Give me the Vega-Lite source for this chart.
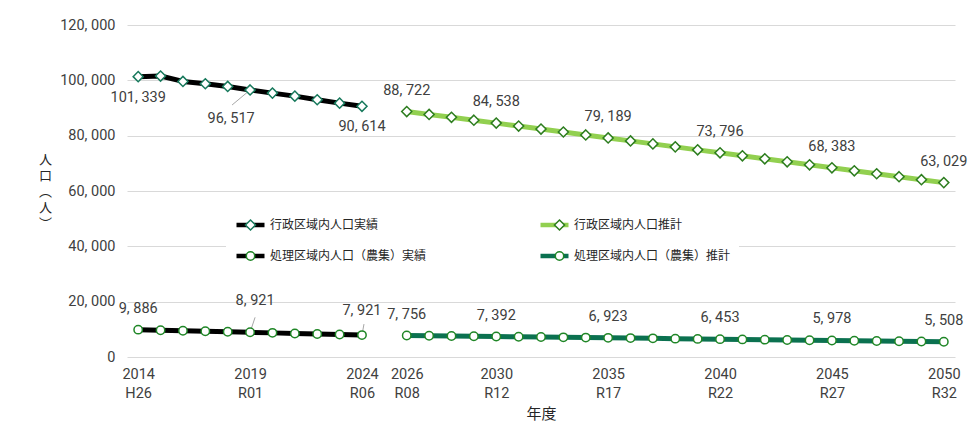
{
  "$schema": "https://vega.github.io/schema/vega-lite/v6.json",
  "width": 828,
  "height": 332,
  "autosize": {"type": "none"},
  "padding": {"left": 127, "top": 25, "right": 24, "bottom": 73},
  "background": "white",
  "config": {
    "locale": {"number": {"decimal": ".", "thousands": ", ", "grouping": [3], "currency": ["", ""]}},
    "view": {"stroke": null},
    "font": "Roboto, 'Noto Sans CJK JP', sans-serif"
  },
  "data": {
    "values": [
      {"year": 2014, "s": "行政区域内人口実績", "v": 101339},
      {"year": 2015, "s": "行政区域内人口実績", "v": 101550},
      {"year": 2016, "s": "行政区域内人口実績", "v": 99600},
      {"year": 2017, "s": "行政区域内人口実績", "v": 98770},
      {"year": 2018, "s": "行政区域内人口実績", "v": 97800},
      {"year": 2019, "s": "行政区域内人口実績", "v": 96517},
      {"year": 2020, "s": "行政区域内人口実績", "v": 95380},
      {"year": 2021, "s": "行政区域内人口実績", "v": 94290},
      {"year": 2022, "s": "行政区域内人口実績", "v": 92990},
      {"year": 2023, "s": "行政区域内人口実績", "v": 91760},
      {"year": 2024, "s": "行政区域内人口実績", "v": 90614},
      {"year": 2026, "s": "行政区域内人口推計", "v": 88722},
      {"year": 2027, "s": "行政区域内人口推計", "v": 87680},
      {"year": 2028, "s": "行政区域内人口推計", "v": 86640},
      {"year": 2029, "s": "行政区域内人口推計", "v": 85590},
      {"year": 2030, "s": "行政区域内人口推計", "v": 84538},
      {"year": 2031, "s": "行政区域内人口推計", "v": 83470},
      {"year": 2032, "s": "行政区域内人口推計", "v": 82400},
      {"year": 2033, "s": "行政区域内人口推計", "v": 81330},
      {"year": 2034, "s": "行政区域内人口推計", "v": 80260},
      {"year": 2035, "s": "行政区域内人口推計", "v": 79189},
      {"year": 2036, "s": "行政区域内人口推計", "v": 78110},
      {"year": 2037, "s": "行政区域内人口推計", "v": 77030},
      {"year": 2038, "s": "行政区域内人口推計", "v": 75950},
      {"year": 2039, "s": "行政区域内人口推計", "v": 74870},
      {"year": 2040, "s": "行政区域内人口推計", "v": 73796},
      {"year": 2041, "s": "行政区域内人口推計", "v": 72710},
      {"year": 2042, "s": "行政区域内人口推計", "v": 71630},
      {"year": 2043, "s": "行政区域内人口推計", "v": 70550},
      {"year": 2044, "s": "行政区域内人口推計", "v": 69460},
      {"year": 2045, "s": "行政区域内人口推計", "v": 68383},
      {"year": 2046, "s": "行政区域内人口推計", "v": 67310},
      {"year": 2047, "s": "行政区域内人口推計", "v": 66240},
      {"year": 2048, "s": "行政区域内人口推計", "v": 65170},
      {"year": 2049, "s": "行政区域内人口推計", "v": 64100},
      {"year": 2050, "s": "行政区域内人口推計", "v": 63029},
      {"year": 2014, "s": "処理区域内人口（農集）実績", "v": 9886},
      {"year": 2015, "s": "処理区域内人口（農集）実績", "v": 9690},
      {"year": 2016, "s": "処理区域内人口（農集）実績", "v": 9500},
      {"year": 2017, "s": "処理区域内人口（農集）実績", "v": 9300},
      {"year": 2018, "s": "処理区域内人口（農集）実績", "v": 9110},
      {"year": 2019, "s": "処理区域内人口（農集）実績", "v": 8921},
      {"year": 2020, "s": "処理区域内人口（農集）実績", "v": 8720},
      {"year": 2021, "s": "処理区域内人口（農集）実績", "v": 8520},
      {"year": 2022, "s": "処理区域内人口（農集）実績", "v": 8320},
      {"year": 2023, "s": "処理区域内人口（農集）実績", "v": 8120},
      {"year": 2024, "s": "処理区域内人口（農集）実績", "v": 7921},
      {"year": 2026, "s": "処理区域内人口（農集）推計", "v": 7756},
      {"year": 2027, "s": "処理区域内人口（農集）推計", "v": 7665},
      {"year": 2028, "s": "処理区域内人口（農集）推計", "v": 7575},
      {"year": 2029, "s": "処理区域内人口（農集）推計", "v": 7480},
      {"year": 2030, "s": "処理区域内人口（農集）推計", "v": 7392},
      {"year": 2031, "s": "処理区域内人口（農集）推計", "v": 7300},
      {"year": 2032, "s": "処理区域内人口（農集）推計", "v": 7205},
      {"year": 2033, "s": "処理区域内人口（農集）推計", "v": 7110},
      {"year": 2034, "s": "処理区域内人口（農集）推計", "v": 7015},
      {"year": 2035, "s": "処理区域内人口（農集）推計", "v": 6923},
      {"year": 2036, "s": "処理区域内人口（農集）推計", "v": 6830},
      {"year": 2037, "s": "処理区域内人口（農集）推計", "v": 6735},
      {"year": 2038, "s": "処理区域内人口（農集）推計", "v": 6640},
      {"year": 2039, "s": "処理区域内人口（農集）推計", "v": 6545},
      {"year": 2040, "s": "処理区域内人口（農集）推計", "v": 6453},
      {"year": 2041, "s": "処理区域内人口（農集）推計", "v": 6360},
      {"year": 2042, "s": "処理区域内人口（農集）推計", "v": 6265},
      {"year": 2043, "s": "処理区域内人口（農集）推計", "v": 6170},
      {"year": 2044, "s": "処理区域内人口（農集）推計", "v": 6075},
      {"year": 2045, "s": "処理区域内人口（農集）推計", "v": 5978},
      {"year": 2046, "s": "処理区域内人口（農集）推計", "v": 5885},
      {"year": 2047, "s": "処理区域内人口（農集）推計", "v": 5790},
      {"year": 2048, "s": "処理区域内人口（農集）推計", "v": 5695},
      {"year": 2049, "s": "処理区域内人口（農集）推計", "v": 5600},
      {"year": 2050, "s": "処理区域内人口（農集）推計", "v": 5508}
    ]
  },
  "encoding": {
    "x": {
      "field": "year",
      "type": "quantitative",
      "scale": {"domain": [2013.5, 2050.5], "nice": false, "zero": false},
      "axis": {
        "title": "年度",
        "titleFont": "Noto Sans CJK JP",
        "titleFontSize": 15,
        "titleFontWeight": "normal",
        "titleColor": "#262626",
        "titleY": 56,
        "titleBaseline": "middle",
        "values": [2014, 2019, 2024, 2026, 2030, 2035, 2040, 2045, 2050],
        "labelExpr": "[toString(datum.value), datum.value == 2014 ? 'H26' : 'R' + (datum.value - 2018 < 10 ? '0' : '') + toString(datum.value - 2018)]",
        "labelFontSize": 14.5,
        "labelLineHeight": 19,
        "labelPadding": 10,
        "labelColor": "#404040",
        "labelFlush": false,
        "labelOverlap": false,
        "grid": false,
        "domain": false,
        "ticks": false,
        "tickSize": 0
      }
    },
    "y": {
      "field": "v",
      "type": "quantitative",
      "scale": {"domain": [0, 120000], "nice": false},
      "axis": {
        "title": ["人", "口", "︵", "人", "︶"],
        "titleAngle": 0,
        "titleX": -82,
        "titleY": 134,
        "titleAlign": "center",
        "titleBaseline": "middle",
        "titleFont": "Noto Sans CJK JP",
        "titleFontSize": 13,
        "titleFontWeight": "normal",
        "titleLineHeight": 16,
        "titleColor": "#262626",
        "values": [0, 20000, 40000, 60000, 80000, 100000, 120000],
        "format": ",.0f",
        "grid": true,
        "gridColor": "#d9d9d9",
        "gridWidth": 1,
        "domain": false,
        "ticks": false,
        "tickSize": 0,
        "labelPadding": 12,
        "labelFontSize": 14.5,
        "labelColor": "#404040"
      }
    }
  },
  "layer": [
    {
      "transform": [{"filter": {"and": [{"field": "s", "equal": "行政区域内人口実績"}, {"field": "year", "equal": 2019}]}}],
      "mark": {"type": "rule", "color": "#a6a6a6", "strokeWidth": 1, "x2Offset": -18, "y2Offset": 15},
      "encoding": {"x2": {"field": "year"}, "y2": {"field": "v"}}
    },
    {
      "transform": [{"filter": {"and": [{"field": "s", "equal": "処理区域内人口（農集）実績"}, {"field": "year", "equal": 2019}]}}],
      "mark": {"type": "rule", "color": "#a6a6a6", "strokeWidth": 1, "x2Offset": 5, "y2Offset": -15},
      "encoding": {"x2": {"field": "year"}, "y2": {"field": "v"}}
    },
    {
      "transform": [{"filter": {"and": [{"field": "s", "equal": "処理区域内人口（農集）実績"}, {"field": "year", "equal": 2024}]}}],
      "mark": {"type": "rule", "color": "#a6a6a6", "strokeWidth": 1, "x2Offset": 2, "y2Offset": -11},
      "encoding": {"x2": {"field": "year"}, "y2": {"field": "v"}}
    },
    {
      "mark": {"type": "line", "strokeWidth": 5, "strokeJoin": "round"},
      "encoding": {
        "color": {
          "field": "s",
          "type": "nominal",
          "sort": ["行政区域内人口実績", "行政区域内人口推計", "処理区域内人口（農集）実績", "処理区域内人口（農集）推計"],
          "scale": {"range": ["#000000", "#92d050", "#000000", "#0b7150"]},
          "legend": {
            "title": null,
            "orient": "none",
            "direction": "horizontal",
            "legendX": 99,
            "legendY": 182,
            "columns": 2,
            "columnPadding": 111,
            "rowPadding": 11,
            "clipHeight": 20,
            "padding": 8,
            "fillColor": "white",
            "symbolType": "M-1,0H1",
            "symbolSize": 784,
            "symbolStrokeWidth": 4.5,
            "labelFont": "Noto Sans CJK JP",
            "labelFontSize": 12,
            "labelColor": "#262626",
            "labelOffset": 3,
            "labelLimit": 0
          }
        }
      }
    },
    {
      "mark": {"type": "point", "filled": true, "fill": "white", "opacity": 1, "strokeWidth": 1.5, "size": 784},
      "encoding": {
        "shape": {
          "field": "s",
          "type": "nominal",
          "scale": {
            "domain": ["行政区域内人口実績", "行政区域内人口推計", "処理区域内人口（農集）実績", "処理区域内人口（農集）推計"],
            "range": [
              "M0,-0.36L0.36,0L0,0.36L-0.36,0Z",
              "M0,-0.36L0.36,0L0,0.36L-0.36,0Z",
              "M-0.3,0A0.3,0.3,0,1,1,0.3,0A0.3,0.3,0,1,1,-0.3,0Z",
              "M-0.3,0A0.3,0.3,0,1,1,0.3,0A0.3,0.3,0,1,1,-0.3,0Z"
            ]
          },
          "legend": {
            "title": null,
            "orient": "none",
            "direction": "horizontal",
            "legendX": 100.5,
            "legendY": 182,
            "columns": 2,
            "columnPadding": 276,
            "rowPadding": 11,
            "clipHeight": 20,
            "padding": 8,
            "symbolSize": 784,
            "symbolStrokeWidth": 1.5,
            "symbolFillColor": "white",
            "labelFont": "Noto Sans CJK JP",
            "labelFontSize": 12,
            "labelExpr": "''",
            "labelOffset": 3,
            "labelLimit": 0
          }
        },
        "stroke": {
          "field": "s",
          "type": "nominal",
          "scale": {
            "domain": ["行政区域内人口実績", "行政区域内人口推計", "処理区域内人口（農集）実績", "処理区域内人口（農集）推計"],
            "range": ["#17795c", "#2d7d1f", "#1f8626", "#1f8626"]
          },
          "legend": {
            "title": null,
            "orient": "none",
            "direction": "horizontal",
            "legendX": 100.5,
            "legendY": 182,
            "columns": 2,
            "columnPadding": 276,
            "rowPadding": 11,
            "clipHeight": 20,
            "padding": 8,
            "symbolSize": 784,
            "symbolStrokeWidth": 1.5,
            "symbolFillColor": "white",
            "labelFont": "Noto Sans CJK JP",
            "labelFontSize": 12,
            "labelExpr": "''",
            "labelOffset": 3,
            "labelLimit": 0
          }
        }
      }
    },
    {
      "transform": [{"filter": {"and": [
        {"field": "s", "oneOf": ["行政区域内人口推計", "処理区域内人口（農集）推計", "処理区域内人口（農集）実績"]},
        {"field": "year", "oneOf": [2014, 2026, 2030, 2035, 2040, 2045, 2050]}
      ]}}],
      "mark": {"type": "text", "dy": -21, "fontSize": 14.5, "color": "#404040", "baseline": "middle"},
      "encoding": {"text": {"field": "v", "type": "quantitative", "format": ",.0f"}}
    },
    {
      "transform": [{"filter": {"and": [{"field": "s", "equal": "行政区域内人口実績"}, {"field": "year", "oneOf": [2014, 2024]}]}}],
      "mark": {"type": "text", "dy": 21, "fontSize": 14.5, "color": "#404040", "baseline": "middle"},
      "encoding": {"text": {"field": "v", "type": "quantitative", "format": ",.0f"}}
    },
    {
      "transform": [{"filter": {"and": [{"field": "s", "equal": "行政区域内人口実績"}, {"field": "year", "equal": 2019}]}}],
      "mark": {"type": "text", "dx": -19, "dy": 29, "fontSize": 14.5, "color": "#404040", "baseline": "middle"},
      "encoding": {"text": {"field": "v", "type": "quantitative", "format": ",.0f"}}
    },
    {
      "transform": [{"filter": {"and": [{"field": "s", "equal": "処理区域内人口（農集）実績"}, {"field": "year", "equal": 2019}]}}],
      "mark": {"type": "text", "dx": 5, "dy": -31, "fontSize": 14.5, "color": "#404040", "baseline": "middle"},
      "encoding": {"text": {"field": "v", "type": "quantitative", "format": ",.0f"}}
    },
    {
      "transform": [{"filter": {"and": [{"field": "s", "equal": "処理区域内人口（農集）実績"}, {"field": "year", "equal": 2024}]}}],
      "mark": {"type": "text", "dy": -24, "fontSize": 14.5, "color": "#404040", "baseline": "middle"},
      "encoding": {"text": {"field": "v", "type": "quantitative", "format": ",.0f"}}
    }
  ]
}
